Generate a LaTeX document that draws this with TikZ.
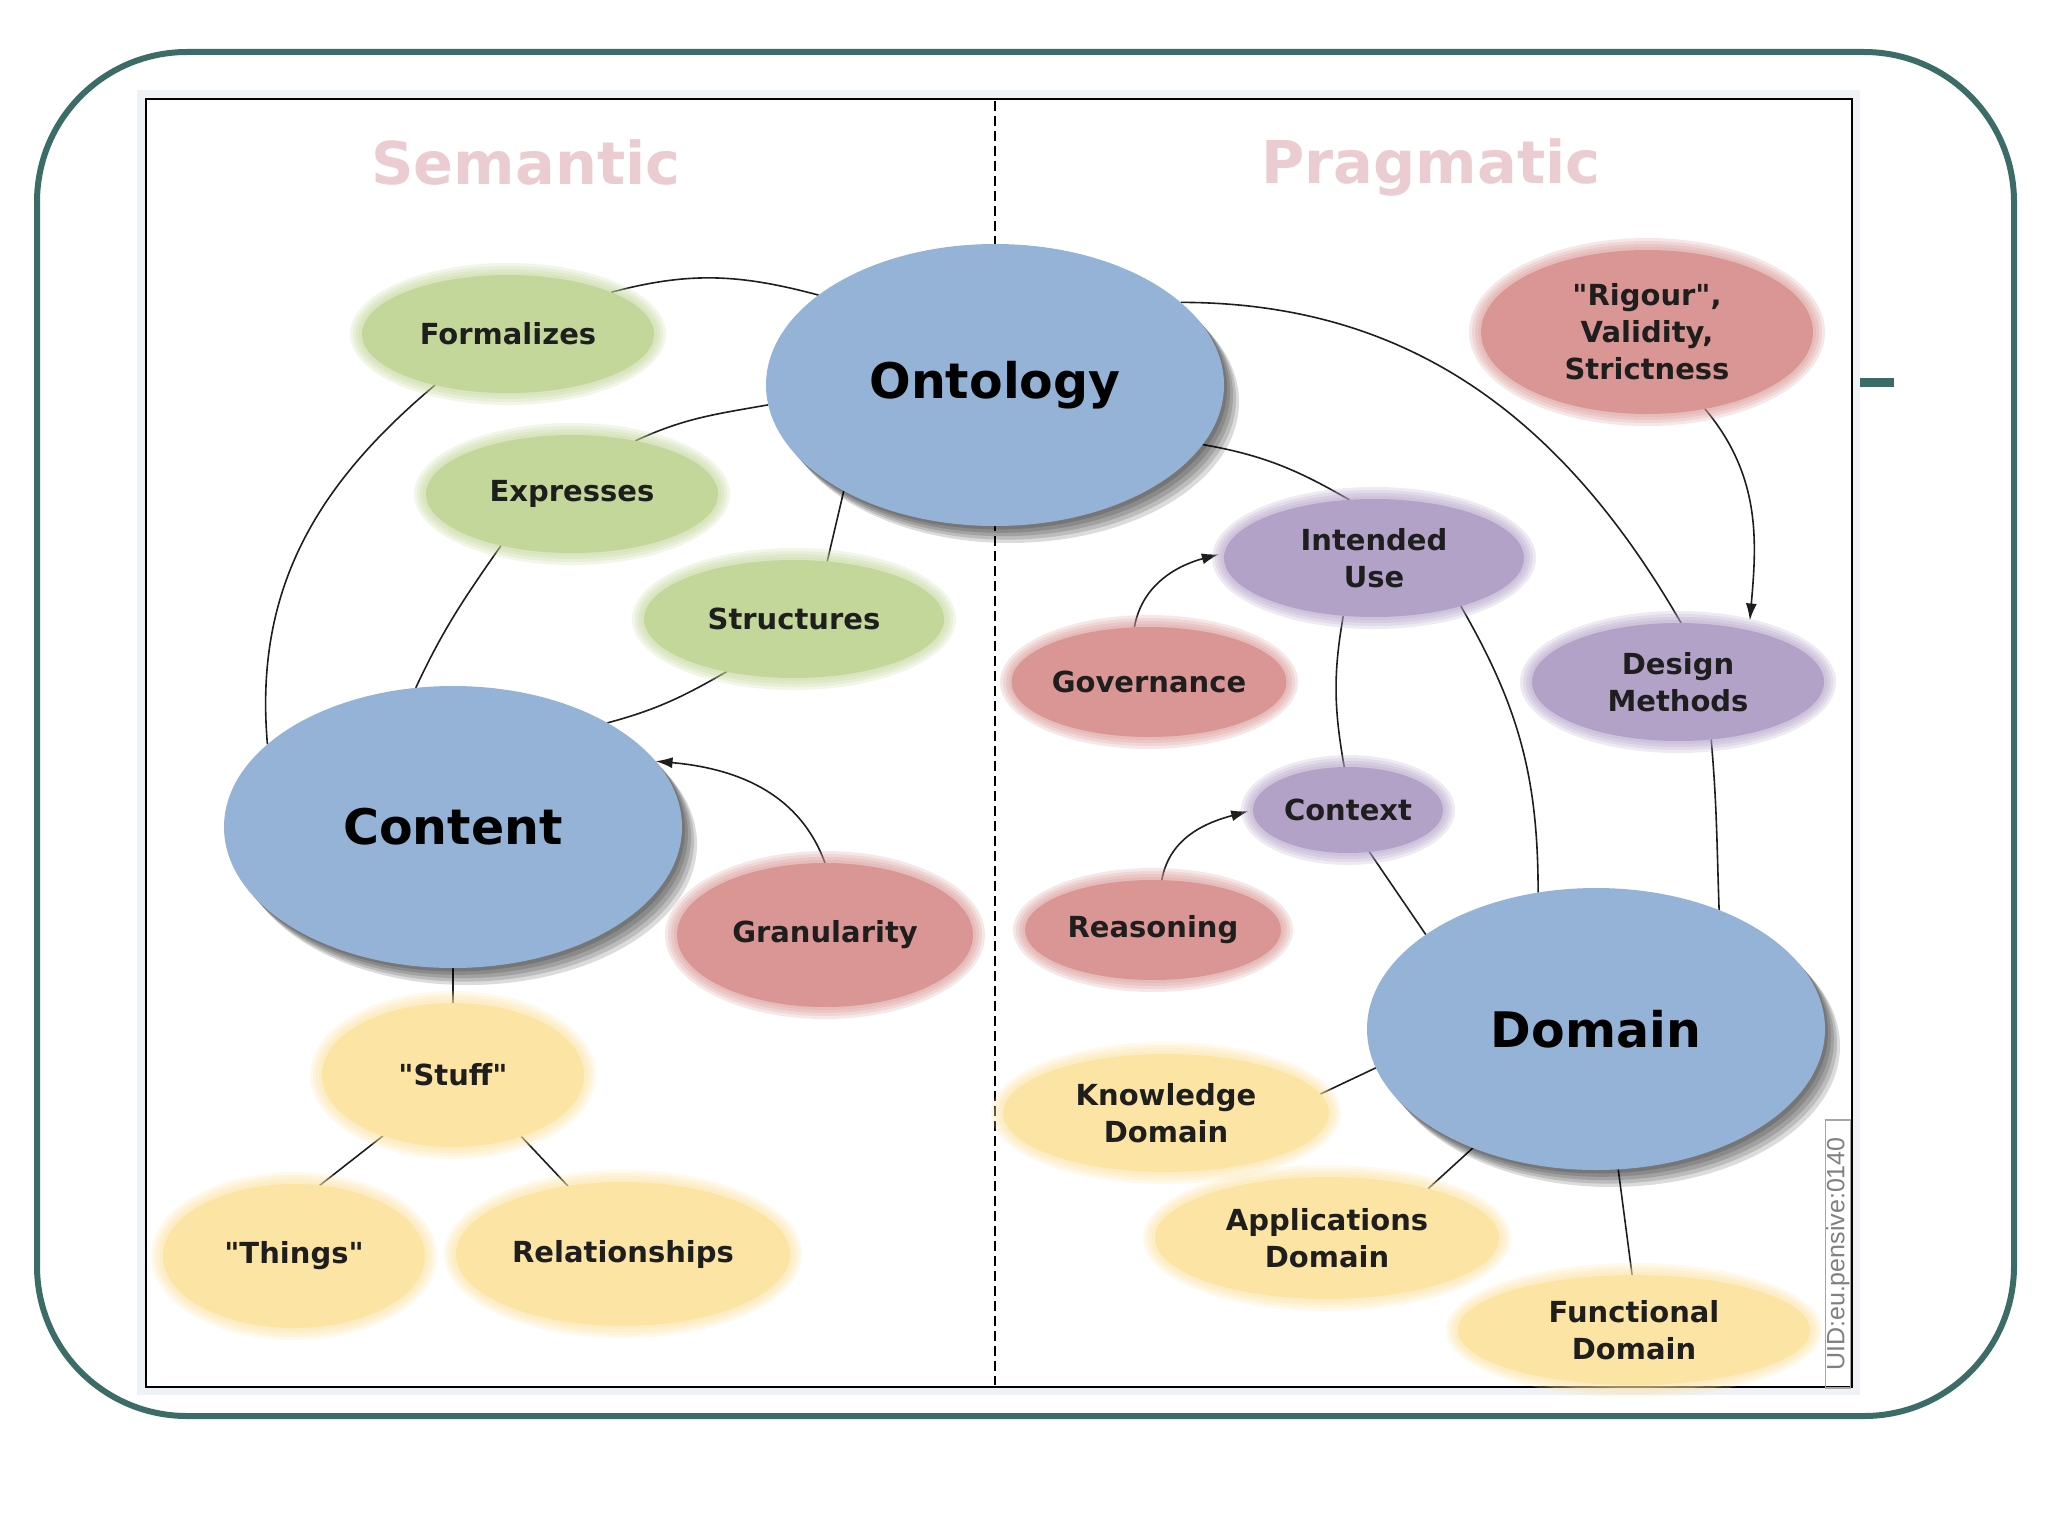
\documentclass[tikz,border=0pt]{standalone}
\usepackage{fontspec}
\setmainfont{DejaVu Sans}[Ligatures=TeXOff]
\newfontfamily\uidfont{Liberation Sans}
\usetikzlibrary{shapes.geometric,arrows.meta}
\pgfdeclarelayer{back}
\pgfdeclarelayer{conn}
\pgfsetlayers{back,conn,main}
\definecolor{teal1}{HTML}{3C6C67}
\definecolor{cblue}{HTML}{95B3D7}
\definecolor{cgreen}{HTML}{C4D79B}
\definecolor{cred}{HTML}{DA9694}
\definecolor{cpurple}{HTML}{B3A2C7}
\definecolor{cyellow}{HTML}{FCE4A4}
\definecolor{ctitle}{HTML}{EBCCD0}
\definecolor{ctext}{HTML}{1E1E1E}
\definecolor{cframe}{HTML}{EEF1F5}
\tikzset{
  blobnode/.style={ellipse, inner sep=0pt, outer sep=0pt, text=ctext, align=center,
    font=\fontsize{29}{37}\selectfont\bfseries},
  bignode/.style={ellipse, inner sep=0pt, outer sep=0pt, fill=cblue, text=black,
    minimum width=458pt, minimum height=282pt, font=\fontsize{49}{55}\selectfont\bfseries},
  conn/.style={draw=ctext, line width=1.6pt},
  arr/.style={conn, -{Latex[length=17pt,width=11pt]}},
  titletext/.style={text=ctitle, font=\fontsize{59}{65}\selectfont\bfseries},
}
\newcommand\blob[7]{%
  \foreach \g in {12,9,6,3}{%
    \pgfmathsetmacro\blobxa{#4+\g}\pgfmathsetmacro\blobya{#5+\g}%
    \fill[#6, opacity=.22] (#2,#3) ellipse [x radius=\blobxa pt, y radius=\blobya pt];
  }
  \node[blobnode, fill=#6, minimum width=2*#4pt, minimum height=2*#5pt] (#1) at (#2,#3) {#7};
}
\newcommand\bigblob[4]{%
  \foreach \k in {5,4,3,2,1}{%
    \fill[black, opacity=.14] ({#2+3*\k},{#3+3.4*\k}) ellipse [x radius=229pt, y radius=141pt];
  }
  \node[bignode] (#1) at (#2,#3) {#4};
}
\begin{document}
\begin{tikzpicture}[x=1pt,y=-1pt]
\useasboundingbox (0,0) rectangle (2048,1536);
\begin{pgfonlayer}{back}
\fill[white] (0,0) rectangle (2048,1536);
% outer frame
\draw[teal1, line width=6pt, rounded corners=150pt] (37,52) rectangle (2014,1416);
\fill[teal1] (1860,378) rectangle (1894,387);
% inner box
\fill[cframe] (137,90) rectangle (1860,1395);
\draw[line width=2.5pt, fill=white] (146,99) rectangle (1852,1387);
\draw[line width=2pt, dash pattern=on 10pt off 5pt] (995,101) -- (995,1385);
\end{pgfonlayer}
% titles
\node[titletext] (sem) at (526,163) {Semantic};
\node[titletext] (prag) at (1431,167) {Pragmatic};
% uid
\node[draw=gray!70, line width=1.2pt, rotate=90, minimum width=268pt, minimum height=25pt,
  inner sep=0pt, text=gray, font=\uidfont\fontsize{25}{25}\selectfont] (uid) at (1838,1254) {UID:eu.pensive:0140};
% big nodes
\bigblob{onto}{995}{385}{Ontology}
\bigblob{cont}{453}{827}{Content}
\bigblob{dom}{1596}{1029}{Domain}
% small nodes
\blob{form}{508}{334}{146}{59}{cgreen}{Formalizes}
\blob{expr}{572}{494}{146}{59}{cgreen}{Expresses}
\blob{struc}{794}{619}{150}{59}{cgreen}{Structures}
\blob{gran}{825}{935}{148}{72}{cred}{Granularity}
\blob{stuff}{453}{1075}{131}{72}{cyellow}{"Stuff"}
\blob{things}{294}{1256}{131}{72}{cyellow}{"Things"}
\blob{rel}{623}{1254}{167}{72}{cyellow}{Relationships}
\blob{rig}{1647}{332}{166}{82}{cred}{"Rigour",\\Validity,\\Strictness}
\blob{iu}{1374}{558}{150}{59}{cpurple}{Intended\\Use}
\blob{gov}{1149}{682}{137}{55}{cred}{Governance}
\blob{dm}{1678}{682}{146}{59}{cpurple}{Design\\Methods}
\blob{ctx}{1348}{810}{95}{43}{cpurple}{Context}
\blob{reas}{1153}{930}{128}{50}{cred}{Reasoning}
\blob{kd}{1166}{1113}{163}{59}{cyellow}{Knowledge\\Domain}
\blob{ad}{1327}{1238}{172}{61}{cyellow}{Applications\\Domain}
\blob{fd}{1634}{1330}{176}{55}{cyellow}{Functional\\Domain}
% connectors
\begin{pgfonlayer}{conn}
\draw[conn] (form.22) to[out=15,in=165] (onto.153);
\draw[conn] (form.215) to[out=220,in=95] (cont.156);
\draw[conn] (expr.40) to[out=25,in=190] (onto.185);
\draw[conn] (expr.216) to[out=235,in=65] (cont.105);
\draw[conn] (struc.60) -- (onto.215);
\draw[conn] (struc.218) to[out=210,in=15] (cont.34);
\draw[arr] (gran.90) to[out=110,in=-5] (cont.18);
\draw[conn] (cont.270) -- (stuff.90);
\draw[conn] (stuff.221) -- (things.70);
\draw[conn] (stuff.-42) -- (rel.129);
\draw[conn] (onto.-16) to[out=-10,in=150] (iu.113);
\draw[conn] (onto.24) to[out=0,in=120] (dm.87);
\draw[conn] (dm.-60) to[out=-85,in=92] (dom.44);
\draw[arr, shorten >=10pt] (rig.-53) to[out=-50,in=85] (dm.36);
\draw[arr, shorten >=6pt] (gov.105) to[out=80,in=195] (iu.178);
\draw[conn] (iu.242) to[out=260,in=100] (ctx.95);
\draw[conn] (iu.-29) to[out=-60,in=90] (dom.113);
\draw[arr, shorten >=5pt] (reas.80) to[out=80,in=195] (ctx.180);
\draw[conn] (ctx.-63) -- (dom.151);
\draw[conn] (dom.190) -- (kd.7);
\draw[conn] (dom.224) -- (ad.26);
\draw[conn] (dom.-81) -- (fd.92);
\end{pgfonlayer}
\end{tikzpicture}
\end{document}
